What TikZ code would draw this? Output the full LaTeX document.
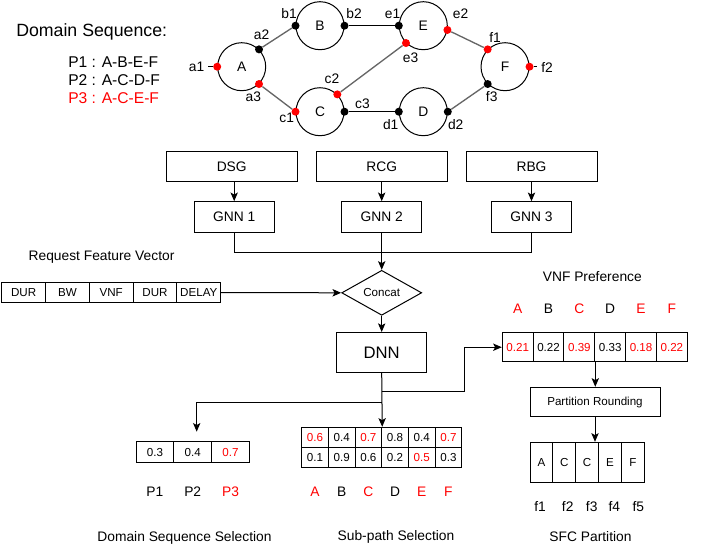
\documentclass[tikz,border=0pt]{standalone}
\usepackage{fontspec}
\setmainfont{Liberation Sans}
\usetikzlibrary{positioning, shapes.geometric, arrows.meta}
\tikzstyle{diagram} = [x = 0.75pt, y = -0.75pt]
\definecolor{linkGrey}{HTML}{666666}
\definecolor{markRed}{HTML}{FF0000}
\newcommand{\pxu}{0.75pt}
\tikzstyle{normalText} = [font=\fontsize{10.35}{12}\selectfont]
\tikzstyle{smallText} = [font=\fontsize{8.7}{10}\selectfont]
\tikzstyle{domainCircle} = [draw, circle, inner sep=0pt, minimum size=48*\pxu, line width=0.75pt, normalText]
\tikzstyle{portDotStyle} = [circle, inner sep=0pt, minimum size=8*\pxu]
\tikzstyle{portText} = [normalText, inner sep=0pt]
\tikzstyle{greyLink} = [color=linkGrey, line width=1pt]
\tikzstyle{blackLink} = [color=black, line width=0.75pt]
\tikzstyle{procBox} = [draw, rectangle, inner sep=0pt, line width=0.75pt, normalText]
\tikzstyle{flowArrow} = [-{Stealth[length=6.5pt, width=5.5pt, inset=1.5pt]}, line width=0.75pt]
\tikzstyle{cellBox} = [draw, rectangle, inner sep=0pt, line width=0.75pt, smallText]
\tikzstyle{titleText} = [normalText, inner sep=0pt]
\newcommand{\portDot}[4]{\node [portDotStyle, fill=#4] (#1) at (#2.#3) {};}
\newcommand{\portLabel}[3]{\node [portText] (#1Label) at (#2, #3) {#1};}
\newcommand{\cellRow}[6]{
  \foreach \val/\col [count=\i] in {#6} {
    \node [cellBox, text=\col, minimum width=#4*\pxu, minimum height=#5*\pxu] (#1\i) at ({#2 + #4*(\i - 0.5)}, #3) {\val};
  }
}
\newcommand{\letterRow}[5]{
  \foreach \val/\col [count=\i] in {#5} {
    \node [titleText, text=\col] (#1\i) at ({#2 + #4*(\i - 0.5)}, #3) {\val};
  }
}

\begin{document}
\begin{tikzpicture}[diagram]
  \useasboundingbox (0,0) rectangle (706,550);
  \node [anchor=west, inner sep=0pt, font=\fontsize{13.3}{15}\selectfont] (seqTitle) at (16,32) {Domain Sequence:};
  \node [anchor=west, inner sep=0pt, font=\fontsize{11.7}{14}\selectfont] (pathOne) at (68,61.7) {P1 : A-B-E-F};
  \node [anchor=west, inner sep=0pt, font=\fontsize{11.7}{14}\selectfont] (pathTwo) at (68,80) {P2 : A-C-D-F};
  \node [anchor=west, inner sep=0pt, font=\fontsize{11.7}{14}\selectfont, text=markRed] (pathThree) at (68,98.3) {P3 : A-C-E-F};

  \node [domainCircle] (domA) at (241.7,66.7) {A};
  \node [domainCircle] (domB) at (320,25.7) {B};
  \node [domainCircle] (domC) at (320,111.7) {C};
  \node [domainCircle] (domD) at (423.3,111.7) {D};
  \node [domainCircle] (domE) at (423.3,25.7) {E};
  \node [domainCircle] (domF) at (505,66.7) {F};
  \portDot{a1}{domA}{180}{markRed}
  \portDot{a2}{domA}{45}{black}
  \portDot{a3}{domA}{-45}{markRed}
  \portDot{b1}{domB}{180}{black}
  \portDot{b2}{domB}{0}{black}
  \portDot{c1}{domC}{180}{markRed}
  \portDot{c2}{domC}{45}{markRed}
  \portDot{c3}{domC}{0}{black}
  \portDot{d1}{domD}{180}{black}
  \portDot{d2}{domD}{0}{black}
  \portDot{e1}{domE}{180}{black}
  \portDot{e2}{domE}{-10}{markRed}
  \portDot{e3}{domE}{-135}{markRed}
  \portDot{f1}{domF}{135}{markRed}
  \portDot{f2}{domF}{0}{markRed}
  \portDot{f3}{domF}{-135}{black}
  \draw [greyLink] (a2) -- (b1);
  \draw [greyLink] (a3) -- (c1);
  \draw [blackLink] (b2) -- (e1);
  \draw [greyLink] (c2) -- (e3);
  \draw [blackLink] (c3) -- (d1);
  \draw [greyLink] (e2) -- (f1);
  \draw [greyLink] (d2) -- (f3);
  \coordinate (a1Stub) at (208,66.7);
  \coordinate (f2Stub) at (537,66.7);
  \draw [blackLink] (a1) -- (a1Stub);
  \draw [blackLink] (f2) -- (f2Stub);
  \portLabel{a1}{196.5}{66.7}
  \portLabel{a2}{261.5}{35}
  \portLabel{a3}{253.3}{96.7}
  \portLabel{b1}{289}{14}
  \portLabel{b2}{354}{14}
  \portLabel{c1}{286.7}{118.3}
  \portLabel{c2}{332}{78.3}
  \portLabel{c3}{362.5}{103.3}
  \portLabel{d1}{390.7}{125}
  \portLabel{d2}{455.7}{125}
  \portLabel{e1}{392.5}{14}
  \portLabel{e2}{460.5}{14}
  \portLabel{e3}{410.5}{57.3}
  \portLabel{f1}{495}{37.3}
  \portLabel{f2}{547}{67.5}
  \portLabel{f3}{491.7}{96.7}

  \node [procBox, minimum width=131*\pxu, minimum height=30.7*\pxu] (dsg) at (231.7,166.5) {DSG};
  \node [procBox, minimum width=131*\pxu, minimum height=30.7*\pxu] (rcg) at (381.7,166.5) {RCG};
  \node [procBox, minimum width=131*\pxu, minimum height=30.7*\pxu] (rbg) at (531.5,166.5) {RBG};
  \node [procBox, minimum width=80*\pxu, minimum height=30.6*\pxu] (gnnOne) at (234.2,217) {GNN 1};
  \node [procBox, minimum width=80*\pxu, minimum height=30.6*\pxu] (gnnTwo) at (381.7,217) {GNN 2};
  \node [procBox, minimum width=80*\pxu, minimum height=30.6*\pxu] (gnnThree) at (531.5,217) {GNN 3};
  \draw [flowArrow] (dsg.south -| gnnOne.north) -- (gnnOne.north);
  \draw [flowArrow] (rcg) -- (gnnTwo);
  \draw [flowArrow] (rbg) -- (gnnThree);

  \node [draw, diamond, inner sep=0pt, line width=0.75pt, minimum width=80*\pxu, minimum height=39*\pxu, smallText] (concat) at (381.7,292.8) {Concat};
  \coordinate (mergeLine) at (381.7,252.3);
  \draw [blackLink] (gnnOne.south) |- (mergeLine) -| (gnnThree.south);
  \draw [flowArrow] (gnnTwo) -- (concat);

  \node [titleText] (featTitle) at (101.5,256.7) {Request Feature Vector};
  \cellRow{feat}{1.7}{292.5}{43.8}{19.6}{DUR/black, BW/black, VNF/black, DUR/black, DELAY/black}
  \draw [flowArrow] (feat5.east) -- (concat.west);

  \node [procBox, minimum width=90*\pxu, minimum height=40*\pxu, font=\fontsize{12.5}{14}\selectfont] (dnn) at (381.7,352.5) {DNN};
  \draw [flowArrow] (concat) -- (dnn);

  \cellRow{subTop}{301.7}{437.3}{26.67}{20}{0.6/markRed, 0.4/black, 0.7/markRed, 0.8/black, 0.4/black, 0.7/markRed}
  \cellRow{subBot}{301.7}{457.3}{26.67}{20}{0.1/black, 0.9/black, 0.6/black, 0.2/black, 0.5/markRed, 0.3/black}
  \letterRow{subName}{301.7}{491.7}{26.67}{A/markRed, B/black, C/markRed, D/black, E/markRed, F/markRed}
  \node [titleText] (subTitle) at (396,536.7) {Sub-path Selection};
  \draw [flowArrow] (dnn.south) -- (subTop3.north east);

  \cellRow{seq}{136}{452}{37.8}{20.6}{0.3/black, 0.4/black, 0.7/markRed}
  \letterRow{seqName}{136}{491.7}{37.8}{P1/black, P2/black, P3/markRed}
  \node [titleText] (seqSelTitle) at (184.5,537.7) {Domain Sequence Selection};
  \coordinate (leftFork) at (381.7,402.3);
  \coordinate (seqArrowEnd) at (196.7,431.7);
  \draw [flowArrow] (leftFork) -| (seqArrowEnd);

  \node [titleText] (prefTitle) at (592.3,276.7) {VNF Preference};
  \letterRow{prefName}{502.3}{308.3}{30.83}{A/markRed, B/black, C/markRed, D/black, E/markRed, F/markRed}
  \cellRow{pref}{502.3}{347.2}{30.83}{29}{0.21/markRed, 0.22/black, 0.39/markRed, 0.33/black, 0.18/markRed, 0.22/markRed}
  \coordinate (rightFork) at (381.7,391.7);
  \coordinate (prefBend) at (464,391.7);
  \draw [flowArrow] (rightFork) -- (prefBend) |- (pref1.west);

  \node [procBox, minimum width=130*\pxu, minimum height=29.4*\pxu, smallText] (rounding) at (595,402) {Partition Rounding};
  \draw [flowArrow] (pref3.south east) -- (rounding.north -| pref3.south east);
  \cellRow{sfc}{530}{462.3}{22.86}{40}{A/black, C/black, C/black, E/black, F/black}
  \draw [flowArrow] (rounding.south) -- (rounding.south |- sfc3.north);
  \foreach \lbl/\xpos in {f1/540, f2/567.7, f3/591.7, f4/614.3, f5/638.3} {
    \node [titleText] (sfcName\lbl) at (\xpos,506.7) {\lbl};
  }
  \node [titleText] (sfcTitle) at (590.5,536.7) {SFC Partition};
\end{tikzpicture}
\end{document}
